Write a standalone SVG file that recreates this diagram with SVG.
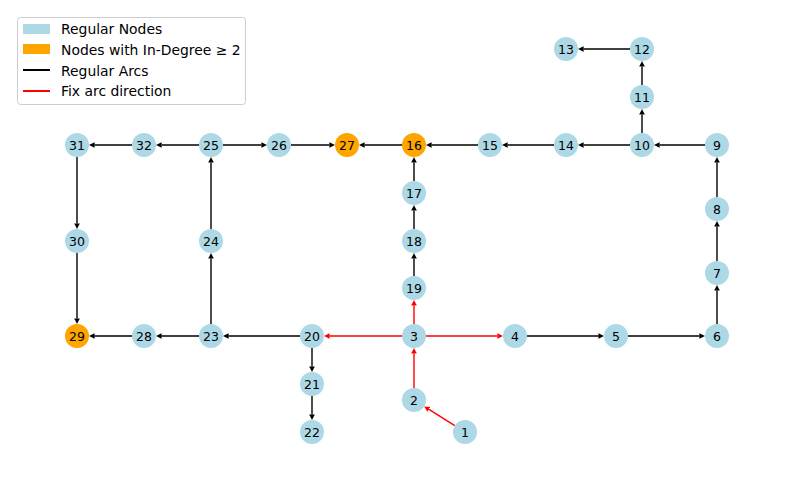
<svg xmlns="http://www.w3.org/2000/svg" width="794" height="482" viewBox="0 0 794 482">
<style>
.e{stroke:#000;stroke-width:1.4;fill:none}
.r{stroke:#f00;stroke-width:1.4;fill:none}
.n{fill:#ADD8E6}
.o{fill:#FFA500}
.t{font-family:"DejaVu Sans",sans-serif;font-size:12.5px;text-anchor:middle;dominant-baseline:central;fill:#000}
.l{font-family:"DejaVu Sans",sans-serif;font-size:13.9px;fill:#000}
</style>
<defs>
<marker id="ab" markerUnits="userSpaceOnUse" markerWidth="6" markerHeight="6" refX="0" refY="2.8" orient="auto"><path d="M0,0 L5.6,2.8 L0,5.6 z" fill="#000"/></marker>
<marker id="ar" markerUnits="userSpaceOnUse" markerWidth="6" markerHeight="6" refX="0" refY="2.8" orient="auto"><path d="M0,0 L5.6,2.8 L0,5.6 z" fill="#f00"/></marker>
</defs>
<rect width="794" height="482" fill="#fff"/>
<g id="connectors">
<g class="e" marker-end="url(#ab)">
<line x1="630" y1="49" x2="583.6" y2="49"/>
<line x1="642" y1="85" x2="642" y2="66.6"/>
<line x1="642" y1="133" x2="642" y2="114.6"/>
<line x1="705" y1="145" x2="659.6" y2="145"/>
<line x1="630" y1="145" x2="583.6" y2="145"/>
<line x1="554" y1="145" x2="507.6" y2="145"/>
<line x1="478" y1="145" x2="431.6" y2="145"/>
<line x1="402" y1="145" x2="364.6" y2="145"/>
<line x1="291" y1="145" x2="329.4" y2="145"/>
<line x1="223" y1="145" x2="261.4" y2="145"/>
<line x1="199" y1="145" x2="161.6" y2="145"/>
<line x1="132" y1="145" x2="94.6" y2="145"/>
<line x1="77" y1="157" x2="77" y2="223.4"/>
<line x1="77" y1="253" x2="77" y2="318.4"/>
<line x1="132" y1="336" x2="94.6" y2="336"/>
<line x1="199" y1="336" x2="161.6" y2="336"/>
<line x1="211" y1="324" x2="211" y2="258.6"/>
<line x1="211" y1="229" x2="211" y2="162.6"/>
<line x1="300" y1="336" x2="228.6" y2="336"/>
<line x1="312" y1="348" x2="312" y2="366.4"/>
<line x1="312" y1="396" x2="312" y2="414.4"/>
<line x1="414" y1="181" x2="414" y2="162.6"/>
<line x1="414" y1="229" x2="414" y2="210.6"/>
<line x1="414" y1="276" x2="414" y2="258.6"/>
<line x1="527" y1="336" x2="598.4" y2="336"/>
<line x1="628" y1="336" x2="699.4" y2="336"/>
<line x1="717" y1="324" x2="717" y2="290.6"/>
<line x1="717" y1="261" x2="717" y2="226.6"/>
<line x1="717" y1="197" x2="717" y2="162.6"/>
</g>
<g class="r" marker-end="url(#ar)">
<line x1="414" y1="324" x2="414" y2="305.6"/>
<line x1="402" y1="336" x2="329.6" y2="336"/>
<line x1="426" y1="336" x2="497.4" y2="336"/>
<line x1="414" y1="388" x2="414" y2="353.6"/>
<line x1="454.8" y1="425.6" x2="428.9" y2="409.4"/>
</g>
</g>
<g id="n1"><circle class="n" cx="465" cy="432" r="12"/><text class="t" x="465" y="432">1</text></g>
<g id="n2"><circle class="n" cx="414" cy="400" r="12"/><text class="t" x="414" y="400">2</text></g>
<g id="n3"><circle class="n" cx="414" cy="336" r="12"/><text class="t" x="414" y="336">3</text></g>
<g id="n4"><circle class="n" cx="515" cy="336" r="12"/><text class="t" x="515" y="336">4</text></g>
<g id="n5"><circle class="n" cx="616" cy="336" r="12"/><text class="t" x="616" y="336">5</text></g>
<g id="n6"><circle class="n" cx="717" cy="336" r="12"/><text class="t" x="717" y="336">6</text></g>
<g id="n7"><circle class="n" cx="717" cy="273" r="12"/><text class="t" x="717" y="273">7</text></g>
<g id="n8"><circle class="n" cx="717" cy="209" r="12"/><text class="t" x="717" y="209">8</text></g>
<g id="n9"><circle class="n" cx="717" cy="145" r="12"/><text class="t" x="717" y="145">9</text></g>
<g id="n10"><circle class="n" cx="642" cy="145" r="12"/><text class="t" x="642" y="145">10</text></g>
<g id="n11"><circle class="n" cx="642" cy="97" r="12"/><text class="t" x="642" y="97">11</text></g>
<g id="n12"><circle class="n" cx="642" cy="49" r="12"/><text class="t" x="642" y="49">12</text></g>
<g id="n13"><circle class="n" cx="566" cy="49" r="12"/><text class="t" x="566" y="49">13</text></g>
<g id="n14"><circle class="n" cx="566" cy="145" r="12"/><text class="t" x="566" y="145">14</text></g>
<g id="n15"><circle class="n" cx="490" cy="145" r="12"/><text class="t" x="490" y="145">15</text></g>
<g id="n16"><circle class="o" cx="414" cy="145" r="12"/><text class="t" x="414" y="145">16</text></g>
<g id="n17"><circle class="n" cx="414" cy="193" r="12"/><text class="t" x="414" y="193">17</text></g>
<g id="n18"><circle class="n" cx="414" cy="241" r="12"/><text class="t" x="414" y="241">18</text></g>
<g id="n19"><circle class="n" cx="414" cy="288" r="12"/><text class="t" x="414" y="288">19</text></g>
<g id="n20"><circle class="n" cx="312" cy="336" r="12"/><text class="t" x="312" y="336">20</text></g>
<g id="n21"><circle class="n" cx="312" cy="384" r="12"/><text class="t" x="312" y="384">21</text></g>
<g id="n22"><circle class="n" cx="312" cy="432" r="12"/><text class="t" x="312" y="432">22</text></g>
<g id="n23"><circle class="n" cx="211" cy="336" r="12"/><text class="t" x="211" y="336">23</text></g>
<g id="n24"><circle class="n" cx="211" cy="241" r="12"/><text class="t" x="211" y="241">24</text></g>
<g id="n25"><circle class="n" cx="211" cy="145" r="12"/><text class="t" x="211" y="145">25</text></g>
<g id="n26"><circle class="n" cx="279" cy="145" r="12"/><text class="t" x="279" y="145">26</text></g>
<g id="n27"><circle class="o" cx="347" cy="145" r="12"/><text class="t" x="347" y="145">27</text></g>
<g id="n28"><circle class="n" cx="144" cy="336" r="12"/><text class="t" x="144" y="336">28</text></g>
<g id="n29"><circle class="o" cx="77" cy="336" r="12"/><text class="t" x="77" y="336">29</text></g>
<g id="n30"><circle class="n" cx="77" cy="241" r="12"/><text class="t" x="77" y="241">30</text></g>
<g id="n31"><circle class="n" cx="77" cy="145" r="12"/><text class="t" x="77" y="145">31</text></g>
<g id="n32"><circle class="n" cx="144" cy="145" r="12"/><text class="t" x="144" y="145">32</text></g>
<g id="legend">
<rect x="17.5" y="17.5" width="228" height="87" rx="3" fill="#fff" fill-opacity="0.8" stroke="#ccc" stroke-width="1"/>
<rect x="23" y="24" width="27" height="10" fill="#ADD8E6"/>
<rect x="23" y="44" width="27" height="10" fill="#FFA500"/>
<line x1="23" y1="70" x2="50" y2="70" stroke="#000" stroke-width="2"/>
<line x1="23" y1="91" x2="50" y2="91" stroke="#f00" stroke-width="2"/>
<text class="l" x="61" y="34">Regular Nodes</text>
<text class="l" x="61" y="55">Nodes with In-Degree ≥ 2</text>
<text class="l" x="61" y="75.5">Regular Arcs</text>
<text class="l" x="61" y="96">Fix arc direction</text>
</g>
</svg>
